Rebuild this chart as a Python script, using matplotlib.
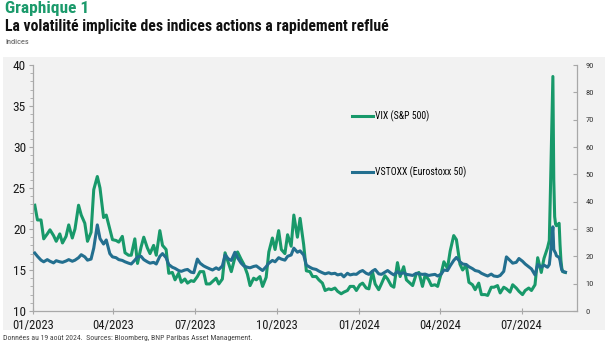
import matplotlib
matplotlib.use("Agg")
import numpy as np
import pandas as pd
import matplotlib.pyplot as plt
import matplotlib.dates as mdates
from matplotlib import font_manager
from matplotlib.patches import Rectangle
from matplotlib.ticker import MultipleLocator

# ---------------- data ----------------
# sampling: Tuesdays and Fridays up to end of July 2024, then business days in August 2024
vix_2023 = [
    22.9, 21.1, 21.1, 18.8, 19.4, 19.9, 19.2, 18.5, 19.4,   # Jan
    18.3, 19.1, 20.5, 18.9, 20.0, 22.9, 21.7, 20.7,         # Feb
    18.5, 19.6, 24.8, 26.4, 25.0, 21.4, 21.7, 20.0, 18.7,   # Mar
    18.6, 18.4, 19.1, 17.1, 16.8, 16.8, 18.8, 15.8,         # Apr
    17.8, 19.0, 17.7, 17.0, 18.0, 16.8, 19.8, 18.0, 17.5,   # May
    14.6, 14.7, 13.8, 14.6, 13.5, 13.9, 13.4, 13.7, 13.6,   # Jun
    14.2, 14.8, 14.8, 13.3, 13.3, 13.6, 14.0, 13.3,         # Jul
    13.9, 17.1, 15.8, 14.8, 16.5, 17.2, 16.3, 15.7, 14.5,   # Aug
    13.1, 14.0, 13.8, 14.2, 13.0, 14.1, 17.2, 18.9, 17.5,   # Sep
    19.8, 17.5, 17.0, 19.3, 17.9, 21.7, 19.0, 21.3, 18.1,   # Oct
    14.9, 14.8, 14.2, 14.2, 13.8, 13.4, 12.5, 12.7,         # Nov
    12.6, 12.8, 12.4, 12.1, 12.3, 12.5, 13.0, 13.0, 12.5,   # Dec
]
vix_2024 = [
    13.2, 13.4, 12.8, 12.7, 14.8, 13.3, 12.6, 13.3, 14.3,   # Jan
    13.9, 13.1, 12.9, 15.9, 14.2, 15.4, 13.8, 13.4,         # Feb
    13.1, 14.5, 14.7, 13.0, 14.4, 13.8, 13.1, 13.2, 13.0,   # Mar
    14.6, 16.0, 15.2, 17.3, 19.2, 18.7, 15.7, 15.0, 15.6,   # Apr
    13.5, 13.2, 12.6, 13.4, 12.0, 12.0, 11.9, 12.9, 12.9,   # May
    13.1, 12.2, 12.9, 12.7, 12.3, 13.2, 12.8, 12.4,         # Jun
    12.0, 12.5, 12.8, 12.5, 13.2, 16.5, 14.7, 16.4, 17.7,   # Jul
    18.6, 23.4, 38.6, 26.0, 21.5, 20.6, 20.4, 20.7, 18.1, 16.2, 15.2, 14.8, 14.7,  # Aug (daily)
]
vstoxx_2023 = [
    21.2, 20.0, 18.6, 18.0, 18.8, 18.2, 17.6, 18.4, 18.0,   # Jan
    17.8, 18.3, 18.8, 18.2, 18.6, 19.5, 20.6, 19.8,         # Feb
    18.6, 19.0, 23.0, 31.5, 26.5, 24.5, 26.0, 21.0, 19.8,   # Mar
    19.5, 18.8, 18.5, 18.0, 17.5, 17.2, 18.6, 19.8,         # Apr
    20.0, 18.8, 18.0, 17.5, 17.8, 17.2, 20.0, 21.0, 19.5,   # May
    17.0, 16.0, 15.6, 14.8, 14.5, 15.0, 15.2, 14.2, 14.0,   # Jun
    19.0, 17.5, 16.5, 16.0, 15.4, 15.0, 15.8, 15.2,         # Jul
    16.5, 20.5, 19.0, 18.5, 21.5, 19.5, 17.5, 16.5, 16.0,   # Aug
    15.8, 16.3, 16.5, 15.5, 14.8, 16.2, 17.5, 18.5, 18.0,   # Sep
    19.5, 19.0, 18.6, 20.0, 20.5, 23.0, 21.5, 22.0, 20.5,   # Oct
    16.8, 16.0, 15.5, 15.2, 14.6, 14.0, 13.6, 14.0,         # Nov
    13.6, 13.8, 13.2, 13.5, 12.5, 13.8, 13.2, 13.5, 13.4,   # Dec
]
vstoxx_2024 = [
    14.4, 14.8, 13.8, 13.4, 14.6, 15.2, 13.6, 13.4, 14.2,   # Jan
    14.8, 13.8, 13.2, 14.4, 13.6, 14.0, 13.4, 13.2,         # Feb
    13.0, 13.8, 13.6, 13.4, 13.5, 13.0, 13.2, 13.4, 12.8,   # Mar
    13.5, 15.0, 14.8, 16.5, 18.5, 19.6, 18.0, 17.2, 17.0,   # Apr
    16.2, 15.5, 14.8, 14.5, 13.8, 13.2, 12.8, 13.5, 12.8,   # May
    12.6, 13.0, 14.5, 19.8, 18.5, 17.5, 17.8, 19.2,         # Jun
    18.2, 17.2, 16.2, 15.4, 13.2, 17.0, 16.0, 16.8, 16.0,   # Jul
    17.0, 20.0, 30.8, 22.5, 21.8, 21.2, 20.2, 19.6, 18.5, 16.5, 15.0, 14.5, 14.2,  # Aug (daily)
]
x_tick_format = "%m/%Y"
series_labels = ["VIX (S&P 500)", "VSTOXX (Eurostoxx 50)"]

tue_fri = pd.date_range("2023-01-03", "2024-07-31", freq="W-TUE").union(
    pd.date_range("2023-01-03", "2024-07-31", freq="W-FRI"))
aug_daily = pd.bdate_range("2024-08-01", "2024-08-19")
dates = tue_fri.union(aug_daily)
vix = np.array(vix_2023 + vix_2024)
vstoxx = np.array(vstoxx_2023 + vstoxx_2024)
assert len(dates) == len(vix) == len(vstoxx), (len(dates), len(vix), len(vstoxx))

# ---------------- fonts ----------------
names = {f.name for f in font_manager.fontManager.ttflist}
def pick(cands):
    for c in cands:
        if c in names:
            return c
    return "DejaVu Sans"
COND = pick(["Roboto Condensed", "Liberation Sans Narrow", "Open Sans Condensed", "Roboto", "Liberation Sans"])
BODY = pick(["Liberation Sans Narrow", "Roboto Condensed", "Roboto", "Liberation Sans"])
plt.rcParams["font.family"] = [BODY, "DejaVu Sans"]

GREEN = "#18996a"
BLUE = "#236f8f"
SPINE = "#a8a8a8"

W, H = 605, 346
fig = plt.figure(figsize=(W / 100, H / 100), dpi=100)
bg = Rectangle((3 / W, 16 / H), 602 / W, 273 / H, transform=fig.transFigure,
               facecolor="#f2f2f2", edgecolor="none")
bg.set_zorder(-10)
fig.patches.append(bg)

ax = fig.add_axes([33 / W, 35 / H, 544 / W, 246 / H])
ax.set_facecolor("none")
ax.set_zorder(1)
ax2 = ax.twinx()
ax2.set_facecolor("none")
ax2.set_zorder(2)

l1, = ax.plot(dates, vix, color=GREEN, lw=2.2, solid_joinstyle="round", zorder=2)
l2, = ax2.plot(dates, vstoxx, color=BLUE, lw=2.2, solid_joinstyle="round", zorder=3)

ax.set_ylim(10, 40)
ax2.set_ylim(0, 90)
ax.set_xlim(pd.Timestamp("2023-01-01"), pd.Timestamp("2024-09-01"))

ax.yaxis.set_major_locator(MultipleLocator(5))
ax.yaxis.set_minor_locator(MultipleLocator(1))
ax2.yaxis.set_major_locator(MultipleLocator(10))
ax.xaxis.set_major_locator(mdates.MonthLocator(bymonth=[1, 4, 7, 10]))
ax.xaxis.set_major_formatter(mdates.DateFormatter(x_tick_format))

for s in ["top", "right"]:
    ax.spines[s].set_visible(False)
for s in ["top", "left", "bottom"]:
    ax2.spines[s].set_visible(False)
for s in ["left", "bottom"]:
    ax.spines[s].set_color(SPINE)
    ax.spines[s].set_linewidth(0.9)
ax2.spines["right"].set_color(SPINE)
ax2.spines["right"].set_linewidth(0.9)

ax.tick_params(axis="y", which="major", direction="out", length=3, color=SPINE,
               labelsize=9.5, labelcolor="#1a1a1a", pad=2)
ax.tick_params(axis="y", which="minor", direction="out", length=2, color=SPINE)
ax.tick_params(axis="x", which="major", direction="inout", length=4, color=SPINE,
               labelsize=9, labelcolor="#1a1a1a", pad=4)
ax2.tick_params(axis="y", direction="in", length=3, color=SPINE,
                labelsize=6, labelcolor="#333333", pad=6)

fig.legend(handles=[l1, l2], labels=series_labels, loc="upper left",
           bbox_to_anchor=(352 / W, 1 - 110 / H), frameon=False, fontsize=7,
           handlelength=2.2, handletextpad=0.2, labelspacing=4.6,
           borderpad=0, borderaxespad=0)

fig.text(5 / W, 1 - 1 / H, "Graphique 1", color="#1b9a6b", fontsize=12.5,
         fontweight="bold", va="top", family=[COND, "DejaVu Sans"])
fig.text(5 / W, 1 - 19 / H, "La volatilité implicite des indices actions a rapidement reflué",
         color="#111111", fontsize=11.3, fontweight="bold", va="top", family=[COND, "DejaVu Sans"])
fig.text(5 / W, 1 - 39 / H, "Indices", color="#555555", fontsize=6, va="top")
fig.text(3 / W, 1 - 338 / H,
         "Données au 19 août 2024.  Sources: Bloomberg, BNP Paribas Asset Management.",
         color="#444444", fontsize=5.6, va="center")

fig.savefig("out.png", dpi=100)
